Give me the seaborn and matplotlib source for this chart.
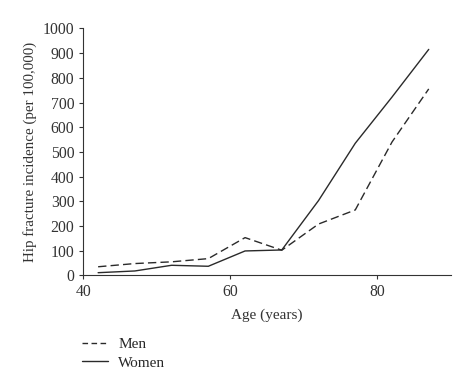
import pandas as pd
import matplotlib.pyplot as plt
import seaborn as sns

ages = [42, 47, 52, 57, 62, 67, 72, 77, 82, 87]
men = [35, 48, 55, 68, 153, 102, 208, 265, 540, 755]
women = [11, 18, 41, 37, 99, 103, 303, 535, 722, 915]

df = pd.DataFrame({
    'age': ages * 2,
    'incidence': men + women,
    'sex': ['Men'] * len(ages) + ['Women'] * len(ages),
})

sns.set_style('ticks')
plt.rcParams['font.family'] = ['Liberation Serif', 'DejaVu Serif']

fig = plt.figure(figsize=(4.74, 3.89), dpi=100)
ax = fig.add_axes([0.176, 0.292, 0.775, 0.635])

sns.lineplot(data=df, x='age', y='incidence', style='sex',
             dashes={'Men': (6, 3), 'Women': ''}, color='#2a2a2a',
             linewidth=1.0, ax=ax, legend=False)

ax.set_xlim(40, 90)
ax.set_ylim(0, 1000)
ax.set_xticks([40, 60, 80])
ax.set_yticks(range(0, 1001, 100))
ax.set_xlabel('Age (years)', fontsize=11, color='#333333', labelpad=6)
ax.set_ylabel('Hip fracture incidence (per 100,000)', fontsize=10.8, color='#333333', labelpad=4)
ax.tick_params(labelsize=11.3, colors='#333333', length=3, width=0.8)
for s in ['left', 'bottom']:
    ax.spines[s].set_color('#333333')
    ax.spines[s].set_linewidth(0.8)
sns.despine(ax=ax)

handles = [plt.Line2D([], [], color='#2a2a2a', lw=1.0, dashes=(4, 2.5)),
           plt.Line2D([], [], color='#2a2a2a', lw=1.0)]
fig.legend(handles, ['Men', 'Women'], loc='upper left', bbox_to_anchor=(0.145, 0.167),
           frameon=False, fontsize=11, handlelength=1.65, labelspacing=0.3, handletextpad=0.7)

fig.savefig('out.png', dpi=100)
